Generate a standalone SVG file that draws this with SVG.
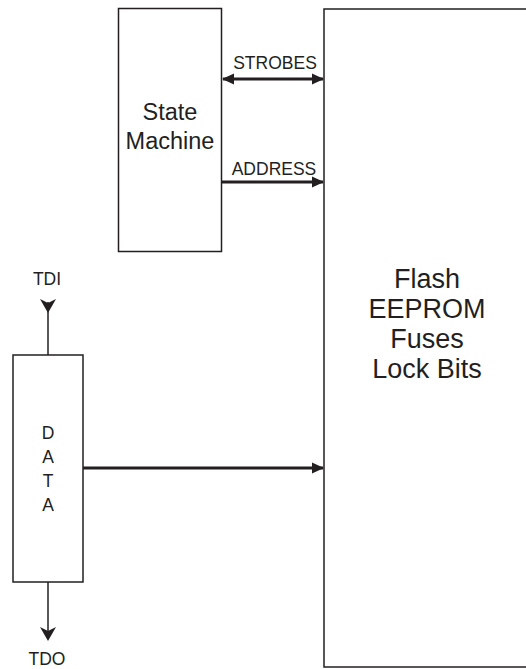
<svg xmlns="http://www.w3.org/2000/svg" width="526" height="669" viewBox="0 0 526 669">
<style>
.box{fill:#fff;stroke:#231f20;stroke-width:1.5}
.big{font-family:"Liberation Sans",Arial,sans-serif;font-size:27px;fill:#231f20;text-anchor:middle}
.mid{font-family:"Liberation Sans",Arial,sans-serif;font-size:23.5px;fill:#231f20;text-anchor:middle}
.sm{font-family:"Liberation Sans",Arial,sans-serif;font-size:17.5px;fill:#231f20;text-anchor:middle}
.bus{stroke:#231f20;stroke-width:3;fill:none}
.wire{stroke:#231f20;stroke-width:1.5;fill:none}
.head{fill:#231f20}
</style>
<defs>
<marker id="ah" markerUnits="userSpaceOnUse" markerWidth="12" markerHeight="12" refX="11" refY="6" orient="auto-start-reverse" viewBox="0 0 12 12">
<path d="M0,0.5 L12,6 L0,11.5 Z" fill="#231f20"/>
</marker>
</defs>
<rect x="0" y="0" width="526" height="669" fill="#fff"/>
<g id="flash">
<rect class="box" x="324" y="9" width="220" height="658"/>
<text class="big" x="427" y="288">Flash</text>
<text class="big" x="427" y="318">EEPROM</text>
<text class="big" x="427" y="348">Fuses</text>
<text class="big" x="427" y="378">Lock Bits</text>
</g>
<g id="state-machine">
<rect class="box" x="118.5" y="8.5" width="103" height="243"/>
<text class="mid" x="170" y="120">State</text>
<text class="mid" x="170" y="149">Machine</text>
</g>
<g id="data">
<rect class="box" x="13" y="355" width="70" height="227"/>
<text class="sm" x="48" y="439">D</text>
<text class="sm" x="48" y="463">A</text>
<text class="sm" x="48" y="487">T</text>
<text class="sm" x="48" y="511">A</text>
</g>
<g id="tdi">
<text class="sm" x="47" y="285">TDI</text>
</g>
<g id="tdo">
<text class="sm" x="47" y="665">TDO</text>
</g>
<g id="connectors">
<line class="bus" x1="223" y1="79" x2="323" y2="79" marker-start="url(#ah)" marker-end="url(#ah)"/>
<text class="sm" x="275" y="69">STROBES</text>
<line class="bus" x1="222" y1="182" x2="323" y2="182" marker-end="url(#ah)"/>
<text class="sm" x="274" y="175">ADDRESS</text>
<line class="bus" x1="83" y1="468" x2="323" y2="468" marker-end="url(#ah)"/>
<line class="wire" x1="48" y1="302" x2="48" y2="355"/>
<path class="head" d="M48,313 L40,299 L48,303 L56,299 Z"/>
<line class="wire" x1="48" y1="582" x2="48" y2="632"/>
<path class="head" d="M48,641 L40,627 L48,631 L56,627 Z"/>
</g>
</svg>
